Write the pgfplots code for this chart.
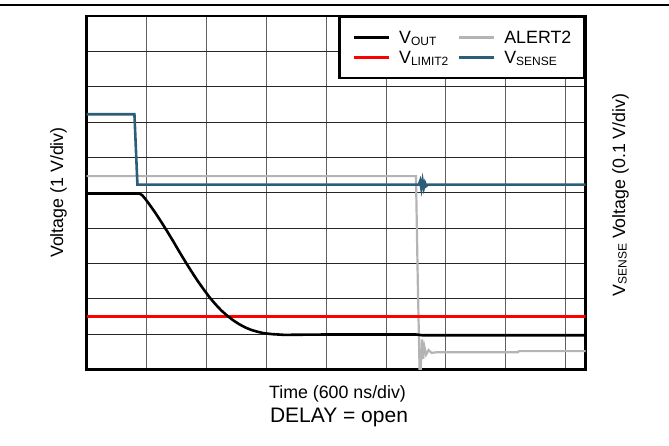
\documentclass[border=0pt]{standalone}
\usepackage{fontspec}
\setmainfont{Liberation Sans}
\usepackage{pgfplots}
\pgfplotsset{compat=1.18}
\definecolor{vsense}{RGB}{44,94,120}
\definecolor{alertgray}{RGB}{180,180,180}
\definecolor{vlimit}{RGB}{255,0,0}
\newcommand{\sub}[1]{\raisebox{-1.7pt}{\fontsize{12}{12}\selectfont #1}}
\begin{document}
\begin{tikzpicture}[x=1pt,y=1pt]
\path[use as bounding box] (0,0) rectangle (669,445);
\draw[line width=1.2pt] (0,440) -- (669,440);
\begin{axis}[
  at={(86.5pt,75.5pt)}, anchor=south west,
  width=499pt, height=353.5pt, scale only axis,
  xmin=0, xmax=8.33, ymin=0, ymax=10,
  xtick={1,...,8}, ytick={1,...,9},
  xticklabels={}, yticklabels={},
  major tick length=0pt,
  grid=major,
  x grid style={black!62, line width=1pt},
  y grid style={black!85, line width=0.9pt},
  axis line style={line width=2.4pt},
  legend columns=2,
  legend cell align=left,
  legend image code/.code={\draw[#1] (0pt,0pt) -- (35pt,0pt);},
  legend style={at={(1,1)}, anchor=north east, draw=black, line width=2.4pt,
    font=\fontsize{17.8}{20}\selectfont,
    inner xsep=13pt, inner ysep=14pt, row sep=7.4pt,
    nodes={inner sep=0pt, text height=12.6pt, text depth=0pt},
    /tikz/every even column/.append style={column sep=9.5pt},
    /tikz/every odd column/.append style={column sep=9pt}},
]
\addlegendimage{black, line width=2.5pt}
\addlegendentry{V\sub{OUT}}
\addlegendimage{alertgray, line width=2.5pt}
\addlegendentry{ALERT2}
\addlegendimage{vlimit, line width=2.5pt}
\addlegendentry{V\sub{LIMIT2}}
\addlegendimage{vsense, line width=2.5pt}
\addlegendentry{V\sub{SENSE}}

% ALERT2
\addplot[alertgray, line width=2.2pt, forget plot] coordinates {
(0,5.47) (5.50,5.47) (5.53,2.5) (5.56,0.0) (5.58,0.0) (5.60,0.85) (5.62,0.30)
(5.64,0.65) (5.67,0.42) (5.71,0.55) (5.76,0.47) (5.85,0.49) (7.20,0.49)
(7.22,0.52) (8.33,0.52)};
% VLIMIT2
\addplot[vlimit, line width=2.8pt, forget plot] coordinates {
(0,1.49) (8.33,1.49)};
% VOUT
\addplot[black, line width=2.6pt, forget plot] coordinates {
(0,4.98) (0.88,4.98) (0.93,4.93) (0.98,4.83) (1.05,4.67) (1.15,4.43)
(1.25,4.17) (1.35,3.90) (1.45,3.62) (1.55,3.33) (1.65,3.05) (1.75,2.78)
(1.85,2.52) (1.95,2.28) (2.05,2.05) (2.15,1.85) (2.25,1.67) (2.35,1.52)
(2.45,1.39) (2.55,1.28) (2.65,1.19) (2.75,1.12) (2.85,1.07) (2.95,1.03)
(3.10,1.00) (3.30,0.98) (4.00,0.99) (5.50,0.99) (5.60,0.97) (8.33,0.97)};
% VSENSE
\addplot[vsense, line width=2.6pt, forget plot] coordinates {
(0,7.22) (0.80,7.22) (0.85,5.23) (5.55,5.23) (5.57,5.33) (5.59,5.12)
(5.61,5.34) (5.63,5.14) (5.65,5.28) (5.67,5.19) (5.70,5.23) (8.33,5.23)};
\end{axis}
\node[anchor=base, font=\fontsize{17.8}{20}\selectfont] at (337.5,46.7) {Time (600 ns/div)};
\node[anchor=base, font=\fontsize{21}{24}\selectfont] at (339,23) {DELAY = open};
\node[anchor=base, rotate=90, font=\fontsize{17.8}{20}\selectfont] at (63,252.5) {Voltage (1 V/div)};
\node[anchor=base, rotate=90, font=\fontsize{17.8}{20}\selectfont] at (625,250) {V\sub{SENSE} Voltage (0.1 V/div)};
\end{tikzpicture}
\end{document}
